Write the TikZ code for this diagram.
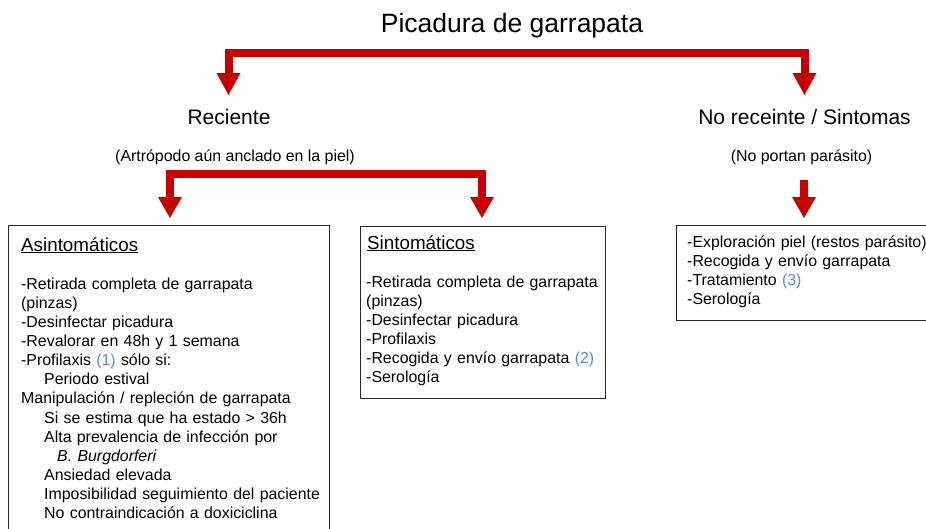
\documentclass[tikz,border=0pt]{standalone}
\usepackage{fontspec}
\setmainfont{Liberation Sans}
\usetikzlibrary{calc}
\definecolor{redc}{RGB}{200,0,0}
\definecolor{bluec}{RGB}{90,138,214}
\tikzset{
  redline/.style={draw=redc, line width=8pt, line join=miter, line cap=butt},
  redtip/.style={fill=redc},
  boxnode/.style={draw=black!85, line width=1.2pt, inner sep=0pt, anchor=north west},
  bigtxt/.style={anchor=base, inner sep=0pt, font=\fontsize{26.5}{30}\selectfont},
  midtxt/.style={anchor=base, inner sep=0pt, font=\fontsize{21}{25}\selectfont},
  smalltxt/.style={anchor=base, inner sep=0pt, font=\fontsize{15.9}{19.08}\selectfont},
  headtxt/.style={anchor=base west, inner sep=0pt, font=\fontsize{18.8}{22}\selectfont},
  bodytxt/.style={anchor=base west, inner sep=0pt, align=left, font=\fontsize{15.9}{19.08}\selectfont},
}
\begin{document}
\begin{tikzpicture}[x=1pt,y=-1pt]
\useasboundingbox (0,0) rectangle (926,528);

% titles
\node[bigtxt] (title) at (512,32) {Picadura de garrapata};
\node[midtxt] (rec) at (229,124) {Reciente};
\node[midtxt] (norec) at (804.5,124) {No receinte / Sintomas};
\node[smalltxt] (recsub) at (235,161.5) {(Artrópodo aún anclado en la piel)};
\node[smalltxt] (norecsub) at (801.5,161.5) {(No portan parásito)};

% boxes
\node[boxnode, minimum width=321pt, minimum height=330pt] (asbox) at (8,225) {};
\node[boxnode, minimum width=245pt, minimum height=172pt] (sibox) at (360,226) {};
\node[boxnode, minimum width=300pt, minimum height=95pt] (nrbox) at (676,225) {};

% box texts
\node[headtxt] (ashead) at (21,251) {\underline{Asintomáticos}};
\node[bodytxt, text width=300pt] (asbody) at (21,289.5) {-Retirada completa de garrapata\\
(pinzas)\\
-Desinfectar picadura\\
-Revalorar en 48h y 1 semana\\
-Profilaxis \textcolor{bluec}{(1)} sólo si:\\
\hspace*{23pt}Periodo estival\\
Manipulación / repleción de garrapata\\
\hspace*{23pt}Si se estima que ha estado > 36h\\
\hspace*{23pt}Alta prevalencia de infección por\\
\hspace*{36pt}\textit{B. Burgdorferi}\\
\hspace*{23pt}Ansiedad elevada\\
\hspace*{23pt}Imposibilidad seguimiento del paciente\\
\hspace*{23pt}No contraindicación a doxiciclina};

\node[headtxt] (sihead) at (367,249) {\underline{Sintomáticos}};
\node[bodytxt, text width=235pt] (sibody) at (366,287.5) {-Retirada completa de garrapata\\
(pinzas)\\
-Desinfectar picadura\\
-Profilaxis\\
-Recogida y envío garrapata \textcolor{bluec}{(2)}\\
-Serología};

\node[bodytxt, text width=240pt] (nrbody) at (687,247.5) {-Exploración piel (restos parásito)\\
-Recogida y envío garrapata\\
-Tratamiento \textcolor{bluec}{(3)}\\
-Serología};

% red connectors
\coordinate (m1) at (516,53);
\coordinate (t1) at (228.5,95);
\coordinate (t2) at (804.5,95);
\coordinate (b1) at (228.5,74);
\coordinate (b2) at (804.5,74);
\draw[redline] (b1) |- (m1) -| (b2);
\fill[redtip, shift={(t1)}] (-12,-22) -- (0,0) -- (12,-22) -- cycle;
\fill[redtip, shift={(t2)}] (-12,-22) -- (0,0) -- (12,-22) -- cycle;

\coordinate (m2) at (326,174);
\coordinate (t3) at (170,218);
\coordinate (t4) at (482,218);
\coordinate (b3) at (170,197);
\coordinate (b4) at (482,197);
\draw[redline] (b3) |- (m2) -| (b4);
\fill[redtip, shift={(t3)}] (-12,-21) -- (0,0) -- (12,-21) -- cycle;
\fill[redtip, shift={(t4)}] (-12,-21) -- (0,0) -- (12,-21) -- cycle;

\coordinate (s5) at (804,180);
\coordinate (t5) at (804,218);
\coordinate (b5) at (804,198);
\draw[redline] (s5) -- (b5);
\fill[redtip, shift={(t5)}] (-12,-21) -- (0,0) -- (12,-21) -- cycle;
\end{tikzpicture}
\end{document}
